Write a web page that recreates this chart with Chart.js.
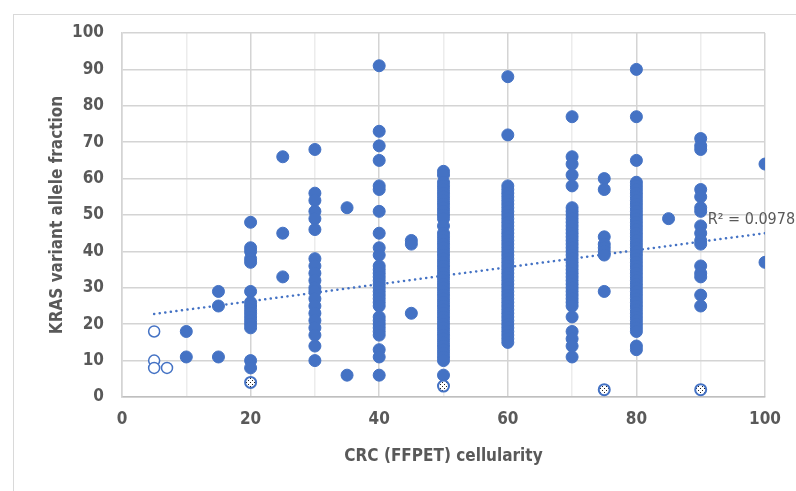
<!DOCTYPE html>
<html>
<head>
<meta charset="utf-8">
<script src="https://cdn.jsdelivr.net/npm/chart.js@4.4.1/dist/chart.umd.min.js"></script>
<style>
  body { margin: 0; background: #fff; }
  #wrap { width: 796px; height: 491px; }
</style>
</head>
<body>
<div id="wrap"><canvas id="kras" width="796" height="491"></canvas></div>
<script>
// cellularity groups and the VAF values
const cellularity = [10, 15, 20, 25, 30, 35, 40, 45, 50, 60, 70, 75, 80, 85, 90, 100];
const vafByCellularity = [
    [18, 11],
    [29, 25, 11],
    [48, 41, 40, 38, 37, 29, 26, 25, 24, 23, 22, 21, 20, 19, 10, 8],
    [66, 45, 33],
    [68, 56, 54, 51, 49, 46, 38, 36, 34, 32, 30, 29, 27, 25, 23, 21, 19, 17, 14, 10],
    [52, 6],
    [91, 73, 69, 65, 58, 57, 51, 45, 41, 39, 36, 35, 34, 33, 32, 31, 30, 29, 28, 27, 26, 25, 22, 21, 20, 19, 18, 17, 13, 11, 6],
    [43, 42, 23],
    [62, 61, 59, 58, 57, 56, 55, 54, 53, 52, 51, 50, 49, 47, 45, 44, 43, 42, 41, 40, 39, 38, 37, 36, 35, 34, 33, 32, 31, 30,
     29, 28, 27, 26, 25, 24, 23, 22, 21, 20, 19, 18, 17, 16, 15, 14, 13, 12, 11, 10, 6],
    [88, 72, 58, 57, 56, 55, 54, 53, 52, 51, 50, 49, 48, 47, 46, 45, 44, 43, 42, 41, 40, 39, 38, 37, 36, 35, 34, 33, 32, 31,
     30, 29, 28, 27, 26, 25, 24, 23, 22, 21, 20, 19, 18, 17, 16, 15],
    [77, 66, 64, 61, 58, 52, 51, 50, 49, 48, 47, 46, 45, 44, 43, 42, 41, 40, 39, 38, 37, 36, 35, 34, 33, 32, 31, 30, 29, 28,
     27, 26, 25, 22, 18, 16, 14, 11],
    [60, 57, 44, 42, 41, 40, 39, 29],
    [90, 77, 65, 59, 58, 57, 56, 55, 54, 53, 52, 51, 50, 49, 48, 47, 46, 45, 44, 43, 42, 41, 40, 39, 38, 37, 36, 35, 34, 33,
     32, 31, 30, 29, 28, 27, 26, 25, 24, 23, 22, 21, 20, 19, 18, 14, 13],
    [49],
    [71, 69, 68, 57, 55, 52, 51, 47, 45, 43, 42, 36, 34, 33, 28, 25],
    [64, 37]
];

// open (unfilled) markers at low cellularity
const openX = [5, 5, 5, 7];
const openY = [18, 10, 8, 8];

// patterned markers near the x axis
const patternX = [20, 50, 75, 90];
const patternY = [4, 3, 2, 2];

// linear trendline ends as seen in the picture
const trendX = [5, 100];
const trendY = [22.8, 45];
const r2Label = 'R\u00b2 = 0.0978';

const blue = '#4472C4';
const grey = '#595959';
const fontFam = "'Liberation Sans Narrow', 'DejaVu Sans Condensed', 'Liberation Sans', sans-serif";

const filled = [];
cellularity.forEach(function(c, i) {
    vafByCellularity[i].forEach(function(v) {
        filled.push({ x: c, y: v });
    });
});
const openPts = openX.map((x, i) => ({ x: x, y: openY[i] }));
const patternPts = patternX.map((x, i) => ({ x: x, y: patternY[i] }));
const trendPts = trendX.map((x, i) => ({ x: x, y: trendY[i] }));

// little dotted fill for the patterned markers
const pc = document.createElement('canvas');
pc.width = 4; pc.height = 4;
const pctx = pc.getContext('2d');
pctx.fillStyle = '#fff';
pctx.fillRect(0, 0, 4, 4);
pctx.fillStyle = '#222';
pctx.fillRect(0, 0, 1, 1);
pctx.fillRect(2, 2, 1, 1);
const dotPattern = pctx.createPattern(pc, 'repeat');

const framePlugin = {
    id: 'frame',
    beforeDraw(chart) {
        const c = chart.ctx;
        c.save();
        c.fillStyle = '#fff';
        c.fillRect(0, 0, chart.width, chart.height);
        c.strokeStyle = '#d9d9d9';
        c.lineWidth = 1;
        c.strokeRect(13.5, 14.5, 900, 900);
        c.restore();
    },
    afterDatasetsDraw(chart) {
        const c = chart.ctx;
        const xs = chart.scales.x, ys = chart.scales.y;
        c.save();
        c.fillStyle = grey;
        c.font = "16px " + fontFam;
        c.textBaseline = 'middle';
        c.fillText(r2Label, xs.getPixelForValue(91.1), ys.getPixelForValue(48.8));
        c.restore();
    }
};

new Chart(document.getElementById('kras').getContext('2d'), {
    type: 'scatter',
    data: {
        datasets: [{
            label: 'Trend',
            type: 'line',
            data: trendPts,
            borderColor: blue,
            borderWidth: 2.5,
            borderDash: [0.1, 5.5],
            borderCapStyle: 'round',
            pointRadius: 0,
            fill: false,
            order: 3
        }, {
            label: 'VAF',
            data: filled,
            backgroundColor: blue,
            borderColor: blue,
            pointRadius: 6,
            pointHoverRadius: 6,
            order: 1
        }, {
            label: 'Open',
            data: openPts,
            backgroundColor: '#fff',
            borderColor: blue,
            borderWidth: 1.5,
            pointRadius: 5.5,
            order: 1
        }, {
            label: 'Pattern',
            data: patternPts,
            backgroundColor: dotPattern,
            borderColor: blue,
            borderWidth: 2,
            pointRadius: 5.5,
            order: 0
        }]
    },
    options: {
        responsive: false,
        animation: false,
        layout: { padding: { top: 33, right: 31, left: 47, bottom: 24 } },
        plugins: {
            legend: { display: false },
            tooltip: { enabled: false }
        },
        scales: {
            x: {
                type: 'linear',
                min: 0,
                max: 100,
                afterFit: function(s) { s.height = 70; },
                ticks: {
                    stepSize: 10,
                    color: grey,
                    padding: 12,
                    font: { family: fontFam, size: 17, weight: 'bold' },
                    callback: v => (v % 20 === 0 ? v : '')
                },
                grid: {
                    color: ctx => (ctx.tick && ctx.tick.value % 20 === 0 ? '#d4d4d4' : '#ececec'),
                    lineWidth: 1.5,
                    drawTicks: false
                },
                border: { color: '#bfbfbf', width: 1.5 },
                title: {
                    display: true,
                    text: 'CRC (FFPET) cellularity',
                    color: grey,
                    padding: { top: 8, bottom: 0 },
                    font: { family: fontFam, size: 17, weight: 'bold' }
                }
            },
            y: {
                min: 0,
                max: 100,
                afterFit: function(s) { s.width = 75; },
                ticks: {
                    stepSize: 5,
                    color: grey,
                    padding: 18,
                    font: { family: fontFam, size: 17, weight: 'bold' },
                    callback: v => (v % 10 === 0 ? v : '')
                },
                grid: {
                    color: ctx => (ctx.tick && ctx.tick.value % 10 === 0 ? '#d4d4d4' : '#ececec'),
                    lineWidth: 1.5,
                    drawTicks: false
                },
                border: { color: '#d4d4d4', width: 1.5 },
                title: {
                    display: true,
                    text: 'KRAS variant allele fraction',
                    color: grey,
                    padding: { top: 0, bottom: 0 },
                    font: { family: fontFam, size: 17, weight: 'bold' }
                }
            }
        }
    },
    plugins: [framePlugin]
});
</script>
</body>
</html>
